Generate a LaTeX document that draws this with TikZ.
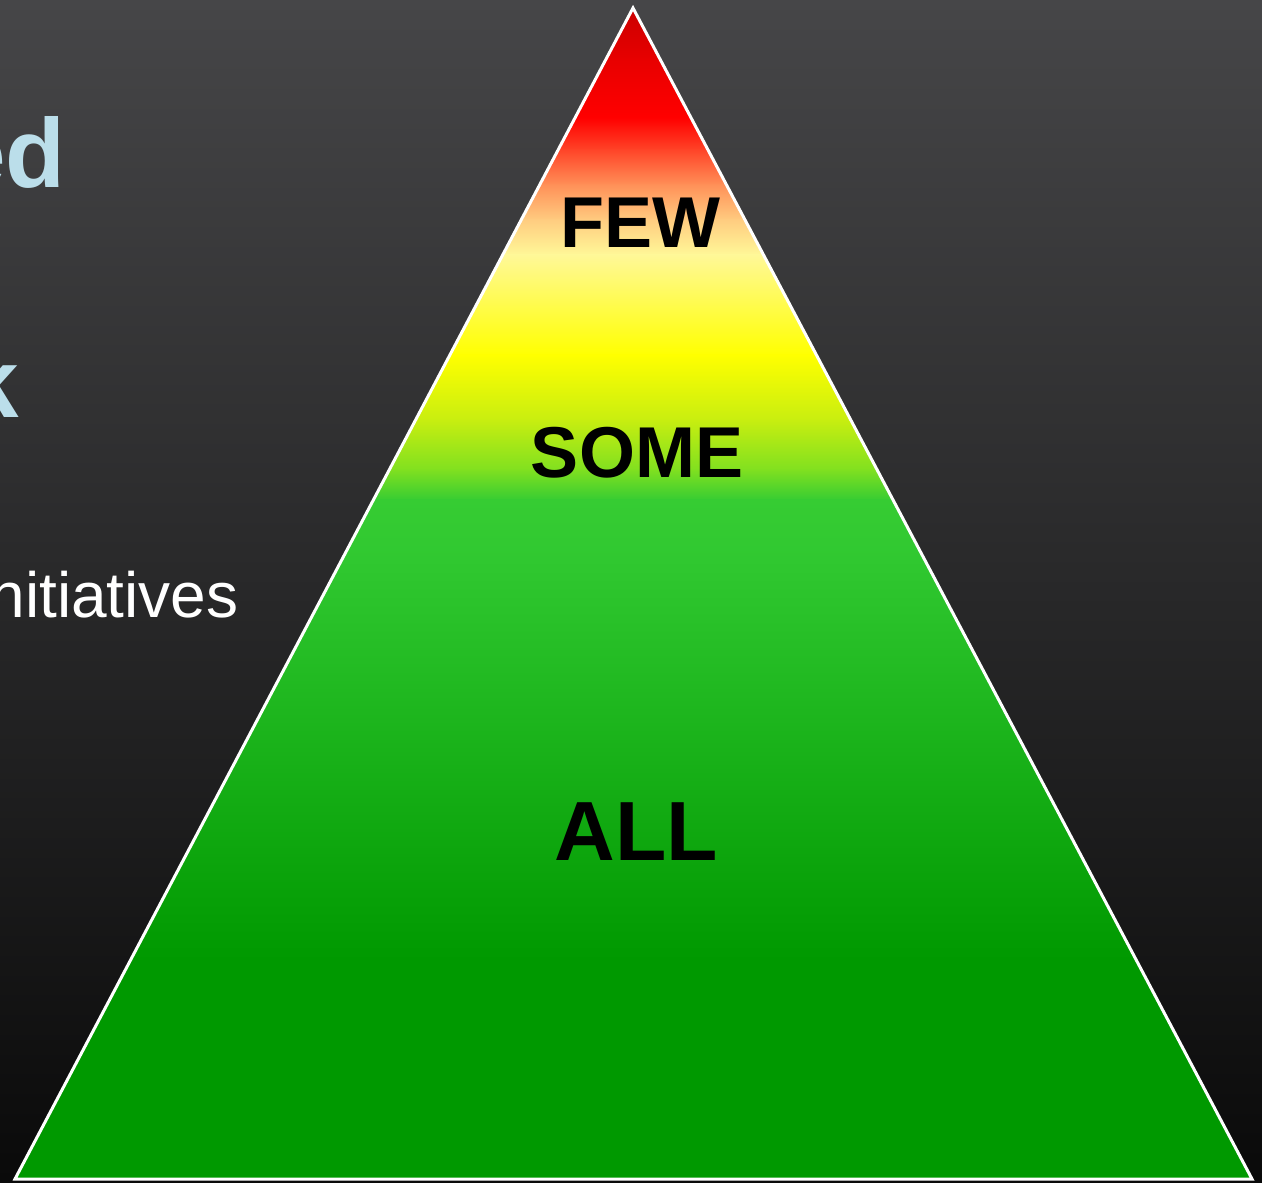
\documentclass[tikz,border=0pt]{standalone}
\usepackage{fontspec}
\setmainfont{Liberation Sans}
\usepackage{xcolor}

\definecolor{bgtop}{HTML}{464648}
\definecolor{bgbot}{HTML}{0A0A0A}
\definecolor{headblue}{HTML}{BBDEEA}
\definecolor{p0}{HTML}{C60000}
\definecolor{p1}{HTML}{E80000}
\definecolor{p2}{HTML}{FF0000}
\definecolor{p3}{HTML}{FF4428}
\definecolor{p4}{HTML}{FF9058}
\definecolor{p5}{HTML}{FFCC80}
\definecolor{p6}{HTML}{FFF898}
\definecolor{p7}{HTML}{FFFF00}
\definecolor{p8}{HTML}{C8EE10}
\definecolor{p9}{HTML}{80E020}
\definecolor{p10}{HTML}{36CC33}
\definecolor{p11}{HTML}{30C830}
\definecolor{p12}{HTML}{009900}

\begin{document}
\begin{tikzpicture}[x=0.5pt,y=-0.5pt]
     \tikzstyle{level}=[font=\fontsize{36}{40}\selectfont\bfseries,text=black,anchor=base,inner sep=0pt]
     \tikzstyle{side}=[anchor=base east,inner sep=0pt]
     \tikzstyle{rim}=[draw=white,line width=1.5pt,line join=miter]

     \useasboundingbox (0,0) rectangle (1262,1182);
     \clip (0,0) rectangle (1262,1182);
     \shade[top color=bgtop,bottom color=bgbot] (0,0) rectangle (1262,1182);

     % text cut off at the left border
     \node[side,text=headblue,font=\fontsize{49}{54}\selectfont\bfseries] (head1) at (66,188) {ed};
     \node[side,text=headblue,font=\fontsize{49}{54}\selectfont\bfseries] (head2) at (19,417) {k};
     \node[side,text=white,font=\fontsize{32}{36}\selectfont] (item) at (239,617) {nitiatives};

     \coordinate (apex) at (633,8);
     \coordinate (bl) at (15,1179);
     \coordinate (br) at (1252,1179);

     \begin{scope}
       \clip (apex) -- (bl) -- (br) -- cycle;
       \foreach \ya/\ca/\yb/\cb in {0/p0/60/p1, 60/p1/118/p2, 118/p2/150/p3,
           150/p3/185/p4, 185/p4/220/p5, 220/p5/255/p6, 255/p6/355/p7,
           355/p7/420/p8, 420/p8/470/p9, 470/p9/500/p10, 500/p10/560/p11,
           560/p11/960/p12, 960/p12/1182/p12}
         \shade[top color=\ca,bottom color=\cb] (0,\ya-0.5) rectangle (1262,\yb+0.5);
     \end{scope}

     \draw[rim] (apex) -- (bl) -- (br) -- cycle;

     \node[level] (few) at (640,248) {FEW};
     \node[level] (some) at (637,477) {SOME};
     \node[level,font=\fontsize{42}{46}\selectfont\bfseries] (all) at (636,860) {ALL};
\end{tikzpicture}
\end{document}
